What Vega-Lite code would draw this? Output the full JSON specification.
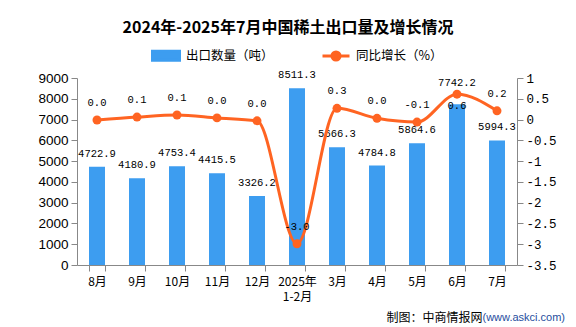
{
  "$schema": "https://vega.github.io/schema/vega-lite/v6.json",
  "width": 440,
  "height": 187,
  "autosize": {"type": "none"},
  "padding": {"left": 77, "top": 78, "right": 59, "bottom": 62},
  "background": "white",
  "title": {
    "text": "2024年-2025年7月中国稀土出口量及增长情况",
    "font": "Noto Sans CJK SC",
    "fontSize": 16,
    "fontWeight": "bold",
    "color": "#000000",
    "anchor": "middle",
    "frame": "group",
    "dx": -9,
    "offset": 5
  },
  "config": {
    "view": {"stroke": null},
    "locale": {"number": {"decimal": ".", "thousands": ",", "grouping": [3], "currency": ["$", ""], "minus": "-"}}
  },
  "data": {
    "values": [
      {"m": "8月", "qty": 4722.9, "yoy": -0.01},
      {"m": "9月", "qty": 4180.9, "yoy": 0.06},
      {"m": "10月", "qty": 4753.4, "yoy": 0.11},
      {"m": "11月", "qty": 4415.5, "yoy": 0.04},
      {"m": "12月", "qty": 3326.2, "yoy": -0.03},
      {"m": "2025年1-2月", "qty": 8511.3, "yoy": -2.99},
      {"m": "3月", "qty": 5666.3, "yoy": 0.27},
      {"m": "4月", "qty": 4784.8, "yoy": 0.03},
      {"m": "5月", "qty": 5864.6, "yoy": -0.06},
      {"m": "6月", "qty": 7742.2, "yoy": 0.61},
      {"m": "7月", "qty": 5994.3, "yoy": 0.21}
    ]
  },
  "encoding": {
    "x": {
      "field": "m",
      "type": "nominal",
      "sort": null,
      "scale": {"paddingInner": 0.6, "paddingOuter": 0.3},
      "axis": {
        "title": "制图：中商情报网",
        "titleFont": "Noto Sans CJK SC",
        "titleFontSize": 12,
        "titleFontWeight": "normal",
        "titleColor": "#000000",
        "titleX": 405,
        "titleY": 52,
        "titleAlign": "right",
        "titleBaseline": "middle",
        "labelAngle": 0,
        "labelFont": "Noto Sans CJK SC",
        "labelFontSize": 12,
        "labelColor": "#000000",
        "labelPadding": 5,
        "labelLineHeight": 15,
        "labelExpr": "datum.label == '2025年1-2月' ? ['2025年', '1-2月'] : datum.label",
        "domainColor": "#888888",
        "tickColor": "#888888",
        "tickSize": 6,
        "tickBand": "extent",
        "grid": false
      }
    }
  },
  "layer": [
    {
      "encoding": {
        "y": {
          "field": "qty",
          "type": "quantitative",
          "scale": {"domain": [0, 9000], "nice": false},
          "axis": {
            "title": null,
            "values": [0, 1000, 2000, 3000, 4000, 5000, 6000, 7000, 8000, 9000],
            "format": "d",
            "labelFont": "Liberation Sans",
            "labelFontSize": 13.5,
            "labelColor": "#000000",
            "labelPadding": 3,
            "tickSize": 6,
            "domainColor": "#888888",
            "tickColor": "#888888",
            "grid": false
          }
        }
      },
      "layer": [
        {
          "mark": {"type": "bar"},
          "encoding": {
            "color": {
              "datum": "出口数量（吨）",
              "scale": {"domain": ["出口数量（吨）", "同比增长（%）"], "range": ["#3D9DF0", "#FF6422"]},
              "legend": {
                "title": null,
                "orient": "none",
                "legendX": 74,
                "legendY": -37.5,
                "direction": "horizontal",
                "labelFont": "Noto Sans CJK SC",
                "labelFontSize": 12.5,
                "labelColor": "#000000",
                "labelOffset": 5,
                "columnPadding": 42,
                "symbolSize": 729,
                "encode": {
                  "symbols": {
                    "update": {
                      "shape": {"signal": "datum.value === '出口数量（吨）' ? 'M-1,-0.33H1V0.33H-1Z' : 'M-1,0H1M0.3,0A0.3,0.3,0,1,1,-0.3,0A0.3,0.3,0,1,1,0.3,0'"},
                      "fill": {"signal": "datum.value === '出口数量（吨）' ? '#3D9DF0' : '#FF6422'"},
                      "stroke": {"signal": "datum.value === '出口数量（吨）' ? 'transparent' : '#FF6422'"},
                      "strokeWidth": {"value": 3},
                      "size": {"value": 729},
                      "opacity": {"value": 1}
                    }
                  }
                }
              }
            }
          }
        },
        {
          "transform": [{"filter": "datum.m != '6月'"}],
          "mark": {"type": "text", "dy": -13, "font": "Liberation Mono", "fontSize": 10.5, "color": "#000000"},
          "encoding": {"text": {"field": "qty", "type": "quantitative", "format": ".1f"}}
        },
        {
          "transform": [{"filter": "datum.m == '6月'"}],
          "mark": {"type": "text", "dy": -21, "font": "Liberation Mono", "fontSize": 10.5, "color": "#000000"},
          "encoding": {"text": {"field": "qty", "type": "quantitative", "format": ".1f"}}
        }
      ]
    },
    {
      "encoding": {
        "y": {
          "field": "yoy",
          "type": "quantitative",
          "scale": {"domain": [-3.5, 1], "nice": false, "zero": false},
          "axis": {
            "orient": "right",
            "title": "(www.askci.com)",
            "titleFont": "Liberation Sans",
            "titleFontSize": 11,
            "titleFontWeight": "normal",
            "titleColor": "#1F4E9E",
            "titleAngle": 0,
            "titleX": -35,
            "titleY": 239,
            "titleAlign": "left",
            "titleBaseline": "middle",
            "values": [-3.5, -3, -2.5, -2, -1.5, -1, -0.5, 0, 0.5, 1],
            "labelExpr": "toString(datum.value)",
            "labelFont": "Liberation Mono",
            "labelFontSize": 12.5,
            "labelColor": "#000000",
            "labelPadding": 3,
            "tickSize": 6,
            "domainColor": "#888888",
            "tickColor": "#888888",
            "grid": false
          }
        }
      },
      "layer": [
        {
          "mark": {"type": "line", "interpolate": "monotone", "strokeWidth": 3},
          "encoding": {"color": {"datum": "同比增长（%）"}}
        },
        {
          "mark": {"type": "point", "filled": true, "size": 80, "opacity": 1},
          "encoding": {"color": {"datum": "同比增长（%）"}}
        },
        {
          "transform": [{"filter": "datum.m != '6月'"}],
          "mark": {"type": "text", "dy": -17, "font": "Liberation Mono", "fontSize": 10.5, "color": "#000000"},
          "encoding": {"text": {"field": "yoy", "type": "quantitative", "format": ".1f"}}
        },
        {
          "transform": [{"filter": "datum.m == '6月'"}],
          "mark": {"type": "text", "dy": 12, "font": "Liberation Mono", "fontSize": 10.5, "color": "#000000"},
          "encoding": {"text": {"field": "yoy", "type": "quantitative", "format": ".1f"}}
        }
      ]
    }
  ],
  "resolve": {"scale": {"y": "independent"}}
}
